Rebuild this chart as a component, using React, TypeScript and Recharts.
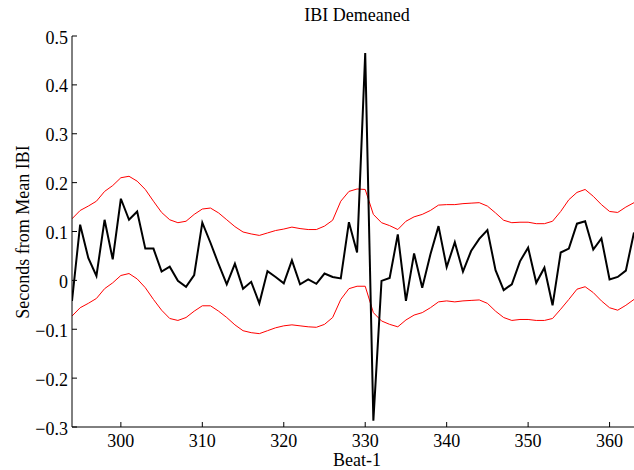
import React from "react";
import { CartesianGrid, Line, LineChart, XAxis, YAxis } from "recharts";

const beats = Array.from({ length: 70 }, (_, i) => 294 + i);

const ibi = [
  -0.042, 0.114, 0.046, 0.009, 0.124, 0.043, 0.167, 0.124, 0.141, 0.065,
  0.065, 0.018, 0.028, -0.001, -0.013, 0.011, 0.118, 0.077, 0.033, -0.008,
  0.034, -0.017, -0.003, -0.047, 0.019, 0.007, -0.006, 0.041, -0.008, 0.002,
  -0.007, 0.014, 0.007, 0.004, 0.119, 0.057, 0.465, -0.287, -0.001, 0.005,
  0.094, -0.042, 0.055, -0.015, 0.053, 0.111, 0.027, 0.078, 0.018, 0.06,
  0.085, 0.103, 0.021, -0.02, -0.008, 0.039, 0.067, -0.005, 0.026, -0.051,
  0.057, 0.065, 0.116, 0.121, 0.063, 0.086, 0.002, 0.007, 0.02, 0.098,
];

const upper = [
  0.126, 0.143, 0.152, 0.162, 0.182, 0.194, 0.21, 0.213, 0.203, 0.186,
  0.162, 0.139, 0.124, 0.118, 0.121, 0.135, 0.146, 0.148, 0.138, 0.124,
  0.11, 0.099, 0.095, 0.092, 0.097, 0.102, 0.105, 0.109, 0.106, 0.104,
  0.104, 0.111, 0.123, 0.162, 0.182, 0.187, 0.186, 0.135, 0.118, 0.112,
  0.104, 0.121, 0.13, 0.135, 0.143, 0.154, 0.155, 0.155, 0.157, 0.158,
  0.159, 0.152, 0.138, 0.123, 0.118, 0.119, 0.119, 0.116, 0.116, 0.121,
  0.141, 0.165, 0.18, 0.186, 0.172, 0.155, 0.141, 0.139, 0.15, 0.159,
];

const lower = [
  -0.073, -0.056, -0.047, -0.037, -0.017, -0.005, 0.01, 0.014, 0.003, -0.015,
  -0.039, -0.061, -0.078, -0.082, -0.076, -0.063, -0.052, -0.052, -0.063, -0.076,
  -0.091, -0.103, -0.107, -0.109, -0.103, -0.097, -0.093, -0.091, -0.093, -0.095,
  -0.096, -0.09, -0.076, -0.039, -0.017, -0.012, -0.012, -0.066, -0.083, -0.09,
  -0.095, -0.081, -0.071, -0.066, -0.056, -0.044, -0.042, -0.044, -0.042, -0.041,
  -0.04, -0.047, -0.063, -0.076, -0.082, -0.08, -0.08, -0.082, -0.082, -0.078,
  -0.059, -0.039, -0.018, -0.013, -0.025, -0.042, -0.056, -0.061, -0.051, -0.039,
];

const xTicks = [300, 310, 320, 330, 340, 350, 360];
const yTicks = [-0.3, -0.2, -0.1, 0, 0.1, 0.2, 0.3, 0.4, 0.5];

const data = beats.map((b, i) => ({ beat: b, ibi: ibi[i], upper: upper[i], lower: lower[i] }));

const FONT = '"Liberation Serif", "Times New Roman", serif';

const fmtY = (v: number) => {
  if (v === 0) return "0";
  const s = Math.abs(v).toFixed(1);
  return v < 0 ? "\u2212" + s : s;
};

const YTick = (props: any) => {
  const { x, y, payload } = props;
  return (
    <g>
      <line x1={x + 4} x2={x + 9} y1={y} y2={y} stroke="#000" strokeWidth={1} />
      <text x={x} y={y} dy="0.42em" textAnchor="end" fontFamily={FONT} fontSize={18} fill="#000">
        {fmtY(payload.value)}
      </text>
    </g>
  );
};

const XTick = (props: any) => {
  const { x, y, payload } = props;
  return (
    <g>
      <line x1={x} x2={x} y1={y} y2={y - 5} stroke="#000" strokeWidth={1} />
      <text x={x} y={y} dy={20} textAnchor="middle" fontFamily={FONT} fontSize={18} fill="#000">
        {payload.value}
      </text>
    </g>
  );
};

export default function App() {
  return (
    <div style={{ position: "absolute", left: 0, top: 0, width: 634, height: 470, background: "#fff" }}>
      <LineChart width={634} height={470} data={data} margin={{ top: 36, right: 0, bottom: 0, left: 0 }}>
        <XAxis
          dataKey="beat"
          type="number"
          domain={[294, 363]}
          ticks={xTicks}
          allowDataOverflow
          height={43}
          tickSize={0}
          tickMargin={0}
          tickLine={false}
          axisLine={{ stroke: "#000", strokeWidth: 1 }}
          tick={<XTick />}
        />
        <YAxis
          type="number"
          domain={[-0.3, 0.5]}
          ticks={yTicks}
          allowDataOverflow
          width={72}
          tickSize={0}
          tickMargin={4}
          tickLine={false}
          axisLine={{ stroke: "#000", strokeWidth: 1 }}
          tick={<YTick />}
        />
        <Line type="linear" dataKey="upper" stroke="#ff0000" strokeWidth={1} dot={false} isAnimationActive={false} />
        <Line type="linear" dataKey="lower" stroke="#ff0000" strokeWidth={1} dot={false} isAnimationActive={false} />
        <Line type="linear" dataKey="ibi" stroke="#000" strokeWidth={2} dot={false} isAnimationActive={false} />
      </LineChart>
      <svg width={634} height={470} style={{ position: "absolute", left: 0, top: 0, pointerEvents: "none" }}>
        <text x={357} y={21} textAnchor="middle" fontFamily={FONT} fontSize={18} fill="#000">
          IBI Demeaned
        </text>
        <text x={357} y={466} textAnchor="middle" fontFamily={FONT} fontSize={18} fill="#000">
          Beat-1
        </text>
        <text
          x={0}
          y={0}
          transform="translate(29, 232) rotate(-90)"
          textAnchor="middle"
          fontFamily={FONT}
          fontSize={18}
          fill="#000"
        >
          Seconds from Mean IBI
        </text>
      </svg>
    </div>
  );
}
